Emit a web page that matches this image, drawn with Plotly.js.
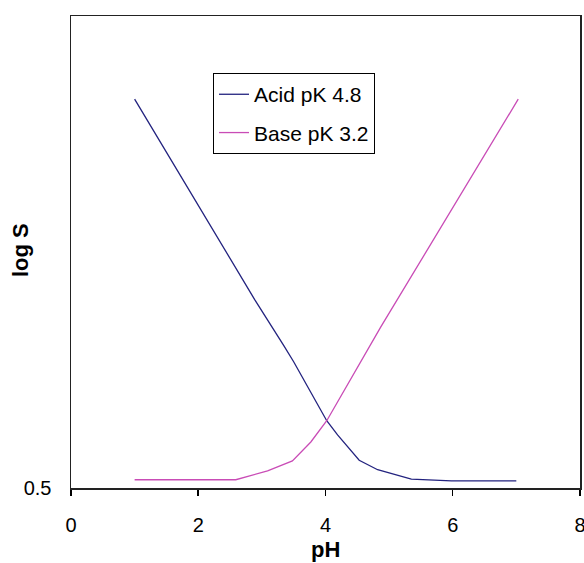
<!DOCTYPE html>
<html>
<head>
<meta charset="utf-8">
<script src="https://cdn.plot.ly/plotly-3.0.1.min.js"></script>
<style>html,body{margin:0;padding:0;background:#fff;}#chart{width:584px;height:563px;}</style>
</head>
<body>
<div id="chart"></div>
<script>
// Acid pK 4.8 series
const acidPH   = [1.0, 1.83, 2.89, 3.34, 3.50, 4.02, 4.19, 4.53, 4.82, 5.35, 5.98, 7.0];
const acidLogS = [7.09, 5.60, 3.69, 2.92, 2.64, 1.64, 1.40, 0.97, 0.81, 0.65, 0.62, 0.62];
// Base pK 3.2 series
const basePH   = [1.0, 2.59, 3.09, 3.48, 3.77, 4.02, 4.87, 7.03];
const baseLogS = [0.64, 0.64, 0.79, 0.96, 1.28, 1.64, 3.23, 7.09];
const xTicks = [0, 2, 4, 6, 8];
const yTicks = [0.5];
const xTitle = 'pH';
const yTitle = 'log S';

const traces = [
  {x: acidPH, y: acidLogS, name: 'Acid pK 4.8', mode: 'lines', type: 'scatter',
   legendgroup: 'a', line: {color: '#23237f', width: 1.3}},
  {x: basePH, y: baseLogS, name: 'Base pK 3.2', mode: 'lines', type: 'scatter',
   legendgroup: 'b', line: {color: '#c94cb6', width: 1.3}}
];

const layout = {
  width: 584, height: 563,
  margin: {l: 71, r: 4, t: 16, b: 75},
  paper_bgcolor: '#fff', plot_bgcolor: '#fff',
  font: {family: 'Liberation Sans, Arial, sans-serif', color: '#000', size: 20},
  showlegend: true,
  legend: {x: 0.279, y: 0.879, xanchor: 'left', yanchor: 'top',
    bordercolor: '#000', borderwidth: 1, bgcolor: '#fff',
    font: {size: 21}, itemwidth: 30, tracegroupgap: 8},
  xaxis: {range: [0, 8.001], tickvals: xTicks, ticktext: xTicks.map(String),
    ticks: 'outside', ticklen: 6, tickcolor: '#000', tickwidth: 1.5,
    ticklabelstandoff: 12, ticklabeloverflow: 'allow',
    showline: true, linecolor: '#222', linewidth: 1.5, mirror: true,
    showgrid: false, zeroline: false,
    tickfont: {size: 20}},
  yaxis: {range: [0.5, 8.5], tickvals: yTicks, ticktext: ['0.5'],
    ticks: '', ticklabelstandoff: 14,
    showline: true, linecolor: '#222', linewidth: 1.5, mirror: true,
    showgrid: false, zeroline: false,
    tickfont: {size: 20}},
  annotations: [
    {text: '<b>' + xTitle + '</b>', xref: 'paper', yref: 'paper', x: 0.5, y: -0.131,
     xanchor: 'center', yanchor: 'middle', showarrow: false, font: {size: 22}},
    {text: '<b>' + yTitle + '</b>', xref: 'paper', yref: 'paper', x: -0.1002, y: 0.504,
     xanchor: 'center', yanchor: 'middle', showarrow: false, textangle: -90, font: {size: 22}}
  ]
};

Plotly.newPlot('chart', traces, layout, {displayModeBar: false, staticPlot: true});
</script>
</body>
</html>
